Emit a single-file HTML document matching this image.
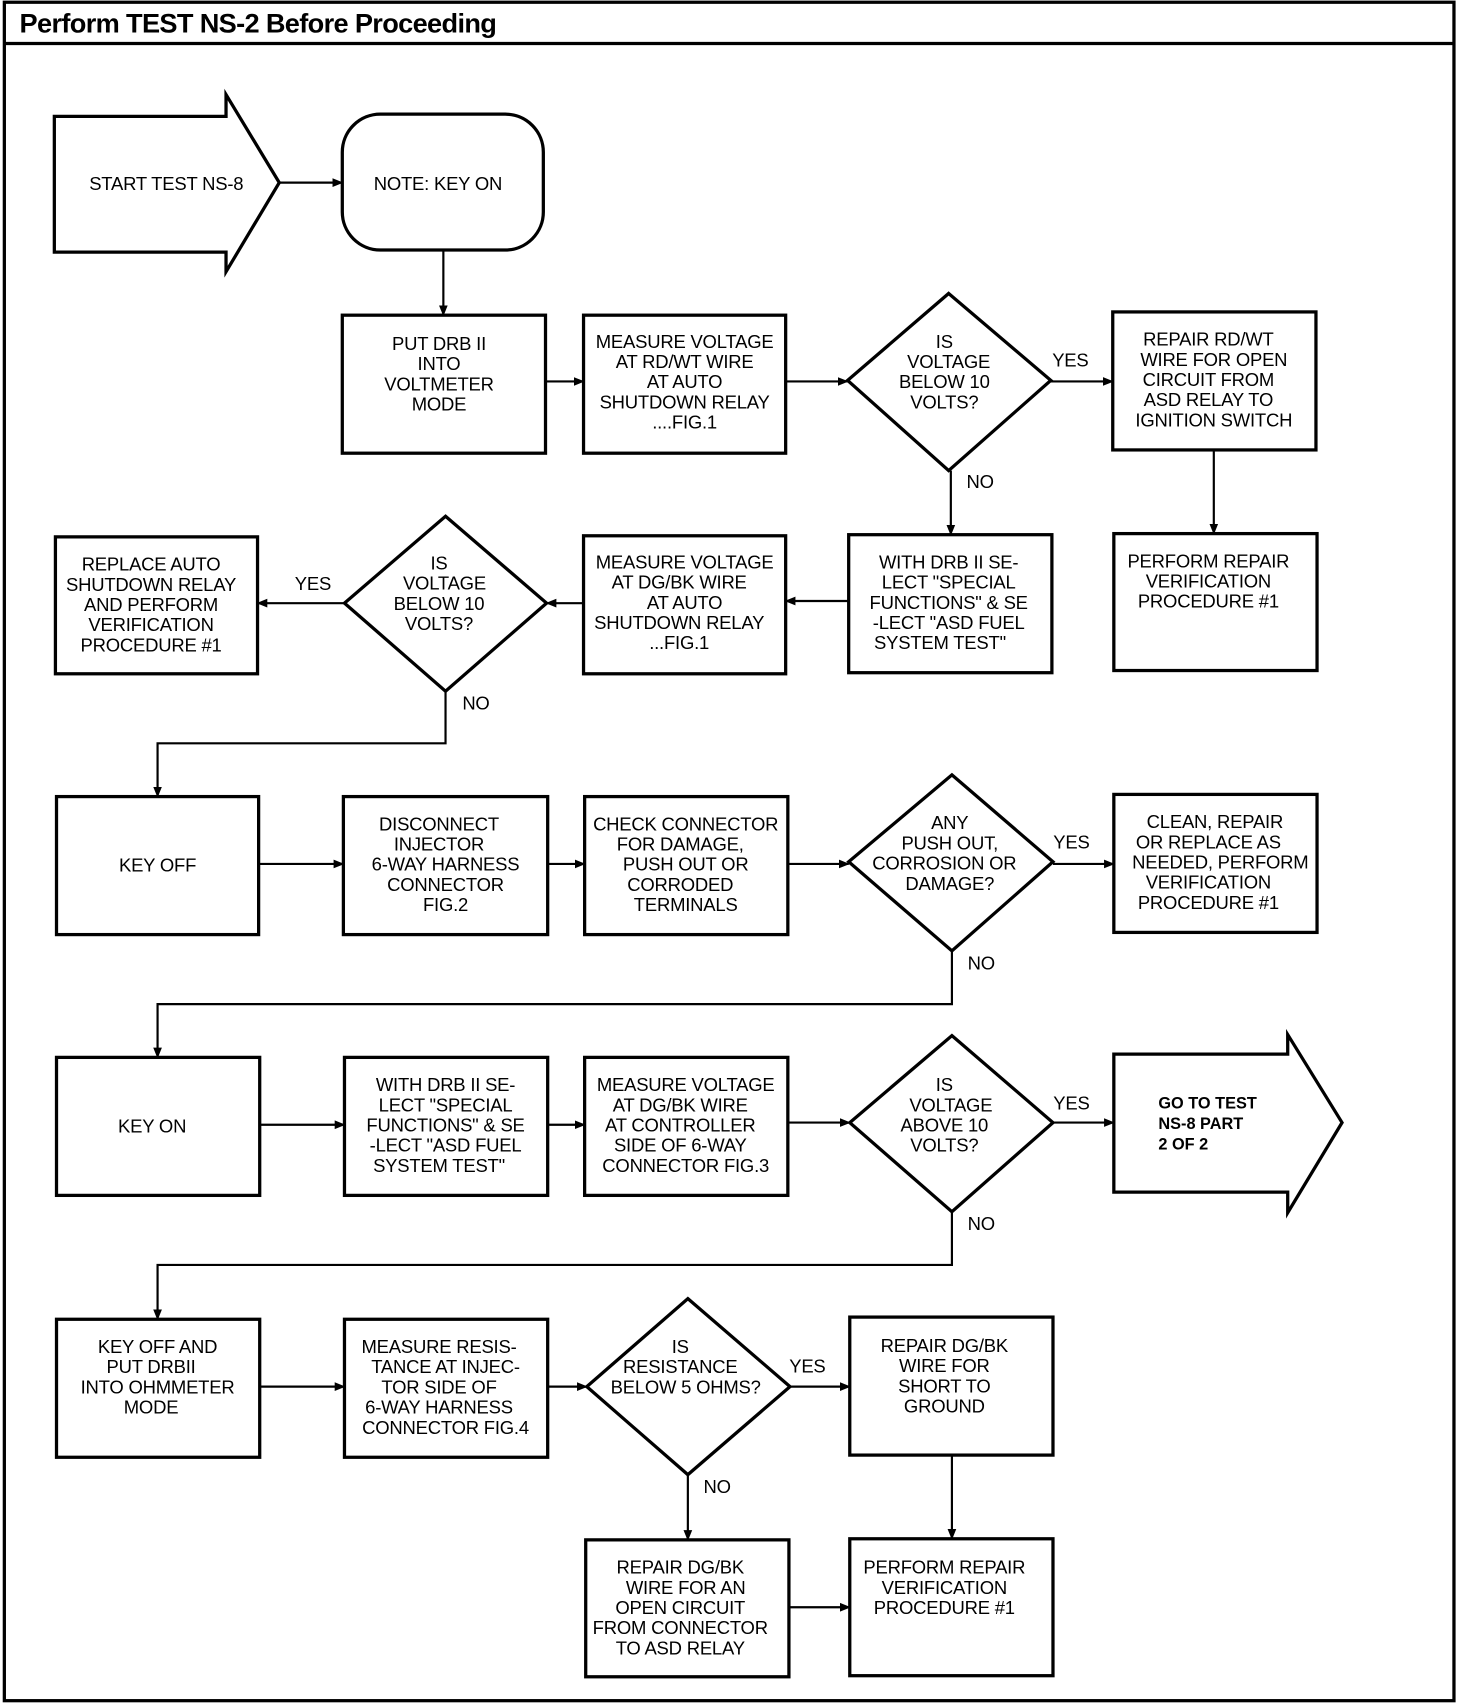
<!DOCTYPE html>
<html><head><meta charset="utf-8"><style>
html,body{margin:0;padding:0;background:#fff}
svg{display:block}
text{font-family:"Liberation Sans",sans-serif;font-size:17px;letter-spacing:-0.2px;fill:#000;text-anchor:middle}
</style></head><body>
<svg width="1472" height="1704" viewBox="0 0 1354.6 1568" xmlns="http://www.w3.org/2000/svg">
<defs><marker id="a" markerWidth="10" markerHeight="10" refX="9" refY="5" orient="auto" markerUnits="userSpaceOnUse"><path d="M0,1 L10,5 L0,9 Z" fill="#000"/></marker></defs>
<g fill="none" stroke="#000" stroke-width="3">
<rect x="4" y="2" width="1334" height="1563"/>
<line x1="4" y1="40" x2="1338" y2="40"/>
<path d="M50,107 H208 V87 L257,168 L208,250 V232 H50 Z"/>
<rect x="315" y="105" width="185" height="125" rx="35"/>
<rect x="315" y="290" width="187" height="127"/>
<rect x="537" y="290" width="186" height="127"/>
<path d="M873,270 L967,350 L873,433 L780,350 Z"/>
<rect x="1024" y="287" width="187" height="127"/>
<rect x="781" y="492" width="187" height="127"/>
<rect x="537" y="493" width="186" height="127"/>
<path d="M410,475 L503,555 L410,636 L317,555 Z"/>
<rect x="51" y="494" width="186" height="126"/>
<rect x="1025" y="491" width="187" height="126"/>
<rect x="52" y="733" width="186" height="127"/>
<rect x="316" y="733" width="188" height="127"/>
<rect x="538" y="733" width="187" height="127"/>
<path d="M876,713 L969,793 L876,875 L781,793 Z"/>
<rect x="1025" y="731" width="187" height="127"/>
<rect x="52" y="973" width="187" height="127"/>
<rect x="317" y="973" width="187" height="127"/>
<rect x="538" y="973" width="187" height="127"/>
<path d="M876,953 L969,1033 L876,1115 L782,1033 Z"/>
<path d="M1025,970 H1185 V952 L1235,1033 L1185,1116 V1097 H1025 Z"/>
<rect x="52" y="1214" width="187" height="127"/>
<rect x="317" y="1214" width="187" height="127"/>
<path d="M633,1195 L727,1276 L633,1357 L540,1276 Z"/>
<rect x="782" y="1212" width="187" height="127"/>
<rect x="539" y="1417" width="187" height="126"/>
<rect x="782" y="1416" width="187" height="126"/>
</g>
<g fill="none" stroke="#000" stroke-width="2" marker-end="url(#a)">
<line x1="257" y1="168" x2="315" y2="168"/>
<line x1="408" y1="230" x2="408" y2="290"/>
<line x1="502" y1="351" x2="537" y2="351"/>
<line x1="723" y1="351" x2="780" y2="351"/>
<line x1="967" y1="351" x2="1024" y2="351"/>
<line x1="875" y1="433" x2="875" y2="492"/>
<line x1="1117" y1="414" x2="1117" y2="491"/>
<line x1="781" y1="553" x2="723" y2="553"/>
<line x1="537" y1="555" x2="503" y2="555"/>
<line x1="317" y1="555" x2="237" y2="555"/>
<polyline points="410,636 410,684 145,684 145,733"/>
<line x1="238" y1="795" x2="316" y2="795"/>
<line x1="504" y1="795" x2="538" y2="795"/>
<line x1="725" y1="795" x2="781" y2="795"/>
<line x1="969" y1="795" x2="1025" y2="795"/>
<polyline points="876,875 876,924 145,924 145,973"/>
<line x1="239" y1="1035" x2="317" y2="1035"/>
<line x1="504" y1="1035" x2="538" y2="1035"/>
<line x1="725" y1="1033" x2="782" y2="1033"/>
<line x1="969" y1="1033" x2="1025" y2="1033"/>
<polyline points="876,1115 876,1164 145,1164 145,1214"/>
<line x1="239" y1="1276" x2="317" y2="1276"/>
<line x1="504" y1="1276" x2="540" y2="1276"/>
<line x1="727" y1="1276" x2="782" y2="1276"/>
<line x1="633" y1="1357" x2="633" y2="1417"/>
<line x1="876" y1="1339" x2="876" y2="1416"/>
<line x1="726" y1="1479" x2="782" y2="1479"/>
</g>
<text x="18" y="30" style="text-anchor:start;font-weight:bold;font-size:25px;letter-spacing:-0.6px">Perform TEST NS-2 Before Proceeding</text>
<text x="153" y="175">START TEST NS-8</text>
<text x="403" y="175">NOTE: KEY ON</text>
<text x="408" y="322"><tspan x="404">PUT DRB II</tspan><tspan x="404" dy="18.6">INTO</tspan><tspan x="404" dy="18.6">VOLTMETER</tspan><tspan x="404" dy="18.6">MODE</tspan></text>
<text y="320"><tspan x="630">MEASURE VOLTAGE</tspan><tspan x="630" dy="18.6">AT RD/WT WIRE</tspan><tspan x="630" dy="18.6">AT AUTO</tspan><tspan x="630" dy="18.6">SHUTDOWN RELAY</tspan><tspan x="630" dy="18.6">....FIG.1</tspan></text>
<text y="320"><tspan x="869">IS</tspan><tspan x="873" dy="18.6">VOLTAGE</tspan><tspan x="869" dy="18.6">BELOW 10</tspan><tspan x="869" dy="18.6">VOLTS?</tspan></text>
<text x="985" y="337">YES</text>
<text x="902" y="449">NO</text>
<text y="318"><tspan x="1112">REPAIR RD/WT</tspan><tspan x="1117" dy="18.6">WIRE FOR OPEN</tspan><tspan x="1112" dy="18.6">CIRCUIT FROM</tspan><tspan x="1112" dy="18.6">ASD RELAY TO</tspan><tspan x="1117" dy="18.6">IGNITION SWITCH</tspan></text>
<text y="523"><tspan x="873">WITH DRB II SE-</tspan><tspan x="873" dy="18.6">LECT "SPECIAL</tspan><tspan x="873" dy="18.6">FUNCTIONS" &amp; SE</tspan><tspan x="873" dy="18.6">-LECT "ASD FUEL</tspan><tspan x="865" dy="18.6">SYSTEM TEST"</tspan></text>
<text y="523"><tspan x="630">MEASURE VOLTAGE</tspan><tspan x="625" dy="18.6">AT DG/BK WIRE</tspan><tspan x="630" dy="18.6">AT AUTO</tspan><tspan x="625" dy="18.6">SHUTDOWN RELAY</tspan><tspan x="625" dy="18.6">...FIG.1</tspan></text>
<text y="524"><tspan x="404">IS</tspan><tspan x="409" dy="18.6">VOLTAGE</tspan><tspan x="404" dy="18.6">BELOW 10</tspan><tspan x="404" dy="18.6">VOLTS?</tspan></text>
<text x="288" y="543">YES</text>
<text x="438" y="653">NO</text>
<text y="525"><tspan x="139">REPLACE AUTO</tspan><tspan x="139" dy="18.6">SHUTDOWN RELAY</tspan><tspan x="139" dy="18.6">AND PERFORM</tspan><tspan x="139" dy="18.6">VERIFICATION</tspan><tspan x="139" dy="18.6">PROCEDURE #1</tspan></text>
<text y="522"><tspan x="1112">PERFORM REPAIR</tspan><tspan x="1112" dy="18.6">VERIFICATION</tspan><tspan x="1112" dy="18.6">PROCEDURE #1</tspan></text>
<text x="145" y="802">KEY OFF</text>
<text y="764"><tspan x="404">DISCONNECT</tspan><tspan x="404" dy="18.6">INJECTOR</tspan><tspan x="410" dy="18.6">6-WAY HARNESS</tspan><tspan x="410" dy="18.6">CONNECTOR</tspan><tspan x="410" dy="18.6">FIG.2</tspan></text>
<text y="764"><tspan x="631">CHECK CONNECTOR</tspan><tspan x="626" dy="18.6">FOR DAMAGE,</tspan><tspan x="631" dy="18.6">PUSH OUT OR</tspan><tspan x="626" dy="18.6">CORRODED</tspan><tspan x="631" dy="18.6">TERMINALS</tspan></text>
<text y="763"><tspan x="874">ANY</tspan><tspan x="874" dy="18.6">PUSH OUT,</tspan><tspan x="869" dy="18.6">CORROSION OR</tspan><tspan x="874" dy="18.6">DAMAGE?</tspan></text>
<text x="986" y="781">YES</text>
<text x="903" y="892">NO</text>
<text y="762"><tspan x="1118">CLEAN, REPAIR</tspan><tspan x="1112" dy="18.6">OR REPLACE AS</tspan><tspan x="1123" dy="18.6">NEEDED, PERFORM</tspan><tspan x="1112" dy="18.6">VERIFICATION</tspan><tspan x="1112" dy="18.6">PROCEDURE #1</tspan></text>
<text x="140" y="1042">KEY ON</text>
<text y="1004"><tspan x="410">WITH DRB II SE-</tspan><tspan x="410" dy="18.6">LECT "SPECIAL</tspan><tspan x="410" dy="18.6">FUNCTIONS" &amp; SE</tspan><tspan x="410" dy="18.6">-LECT "ASD FUEL</tspan><tspan x="404" dy="18.6">SYSTEM TEST"</tspan></text>
<text y="1004"><tspan x="631">MEASURE VOLTAGE</tspan><tspan x="626" dy="18.6">AT DG/BK WIRE</tspan><tspan x="626" dy="18.6">AT CONTROLLER</tspan><tspan x="626" dy="18.6">SIDE OF 6-WAY</tspan><tspan x="631" dy="18.6">CONNECTOR FIG.3</tspan></text>
<text y="1004"><tspan x="869">IS</tspan><tspan x="875" dy="18.6">VOLTAGE</tspan><tspan x="869" dy="18.6">ABOVE 10</tspan><tspan x="869" dy="18.6">VOLTS?</tspan></text>
<text x="986" y="1021">YES</text>
<text x="903" y="1132">NO</text>
<text style="text-anchor:start;font-weight:bold;font-size:15px;letter-spacing:0" y="1020"><tspan x="1066">GO TO TEST</tspan><tspan x="1066" dy="19">NS-8 PART</tspan><tspan x="1066" dy="19">2 OF 2</tspan></text>
<text y="1245"><tspan x="145">KEY OFF AND</tspan><tspan x="139" dy="18.6">PUT DRBII</tspan><tspan x="145" dy="18.6">INTO OHMMETER</tspan><tspan x="139" dy="18.6">MODE</tspan></text>
<text y="1245"><tspan x="404">MEASURE RESIS-</tspan><tspan x="410" dy="18.6">TANCE AT INJEC-</tspan><tspan x="404" dy="18.6">TOR SIDE OF</tspan><tspan x="404" dy="18.6">6-WAY HARNESS</tspan><tspan x="410" dy="18.6">CONNECTOR FIG.4</tspan></text>
<text y="1245"><tspan x="626">IS</tspan><tspan x="626" dy="18.6">RESISTANCE</tspan><tspan x="631" dy="18.6">BELOW 5 OHMS?</tspan></text>
<text x="743" y="1263">YES</text>
<text x="660" y="1374">NO</text>
<text y="1244"><tspan x="869">REPAIR DG/BK</tspan><tspan x="869" dy="18.6">WIRE FOR</tspan><tspan x="869" dy="18.6">SHORT TO</tspan><tspan x="869" dy="18.6">GROUND</tspan></text>
<text y="1448"><tspan x="626">REPAIR DG/BK</tspan><tspan x="631" dy="18.6">WIRE FOR AN</tspan><tspan x="626" dy="18.6">OPEN CIRCUIT</tspan><tspan x="626" dy="18.6">FROM CONNECTOR</tspan><tspan x="626" dy="18.6">TO ASD RELAY</tspan></text>
<text y="1448"><tspan x="869">PERFORM REPAIR</tspan><tspan x="869" dy="18.6">VERIFICATION</tspan><tspan x="869" dy="18.6">PROCEDURE #1</tspan></text>
</svg>
</body></html>
